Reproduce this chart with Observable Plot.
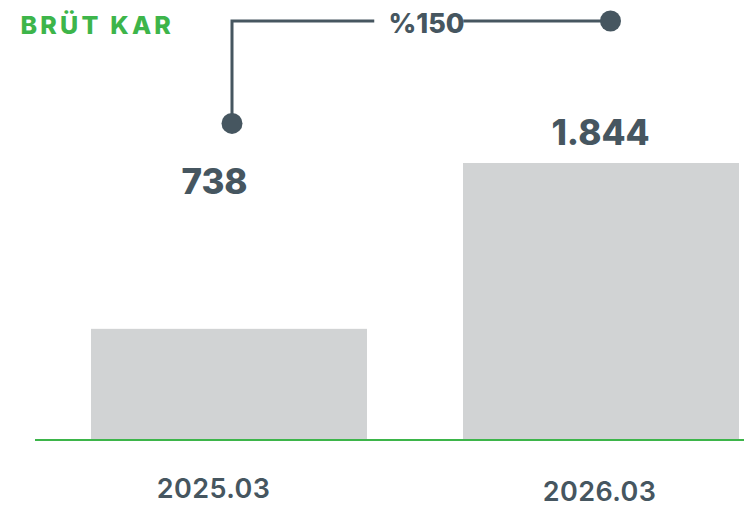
<!DOCTYPE html>
<html>
<head>
<meta charset="utf-8">
<script src="https://cdn.jsdelivr.net/npm/d3@7"></script>
<script src="https://cdn.jsdelivr.net/npm/@observablehq/plot@0.6"></script>
<style>
  html, body { margin: 0; padding: 0; background: #ffffff; }
  #chart svg { display: block; }
</style>
</head>
<body>
<div id="chart"></div>
<script>
// ---- data ----
const title = "BRÜT KAR";
const periods = ["2025.03", "2026.03"];
const values = [738, 1844];

const data = periods.map((p, i) => ({period: p, value: values[i]}));

// Turkish number formatting (1.844)
const tr = d3.formatLocale({decimal: ",", thousands: ".", grouping: [3], currency: ["₺", ""]});
const fmt = tr.format(",d");
const growth = "%" + Math.round((values[1] - values[0]) / values[0] * 100);

const slate = "#465660";
const green = "#3db54a";
const gray = "#d1d3d4";
const font = "Inter, 'Open Sans', sans-serif";

// connector annotation (in value units of the y scale)
const connTop = 2791;
const connStart = 2108;

function connector(index, scales, vals, dims) {
  const x = scales.x, y = scales.y;
  const bw = x.bandwidth ? x.bandwidth() : (scales.scales && scales.scales.x.bandwidth) || 0;
  const x1 = x(periods[0]) + bw / 2 + 3;
  const x2 = x(periods[1]) + bw / 2 + 9.5;
  const yS = y(connStart), yT = y(connTop);
  const mid = (x1 + x2) / 2;
  const g = d3.create("svg:g")
    .attr("fill", "none").attr("stroke", slate).attr("stroke-width", 3);
  g.append("path").attr("d", `M${x1},${yS}V${yT}H${mid - 47}`);
  g.append("path").attr("d", `M${mid + 42},${yT}H${x2}`);
  g.append("circle").attr("cx", x1).attr("cy", yS).attr("r", 10.5).attr("fill", slate).attr("stroke", "none");
  g.append("circle").attr("cx", x2).attr("cy", yT).attr("r", 10.5).attr("fill", slate).attr("stroke", "none");
  return g.node();
}

const chart = Plot.plot({
  width: 744,
  height: 510,
  marginTop: 0,
  marginBottom: 70.5,
  marginLeft: 35,
  marginRight: 0,
  style: {fontFamily: font, background: "#ffffff", overflow: "visible"},
  x: {type: "band", domain: periods, paddingInner: 0.257, paddingOuter: 0.0806, align: 0.917, axis: null},
  y: {domain: [0, 1844 * 439.5 / 276.5], axis: null},
  marks: [
    Plot.barY(data, {x: "period", y: "value", fill: gray}),
    Plot.ruleY([0], {stroke: green, strokeWidth: 2}),
    // value labels
    Plot.text(data.filter(d => d.period === periods[0]), {
      x: "period", y: "value", text: d => fmt(d.value),
      lineAnchor: "bottom", dx: -15, dy: -135.8,
      fontSize: 35, fontWeight: 800, fill: slate
    }),
    Plot.text(data.filter(d => d.period === periods[1]), {
      x: "period", y: "value", text: d => fmt(d.value),
      lineAnchor: "bottom", dx: -1, dy: -19,
      fontSize: 35, fontWeight: 800, fill: slate
    }),
    // category labels
    Plot.text(data.filter(d => d.period === periods[0]), {
      x: "period", frameAnchor: "bottom", text: "period",
      lineAnchor: "bottom", dx: -16, dy: 57.5,
      fontSize: 27, fontWeight: 600, fill: slate
    }),
    Plot.text(data.filter(d => d.period === periods[1]), {
      x: "period", frameAnchor: "bottom", text: "period",
      lineAnchor: "bottom", dx: -2, dy: 60.5,
      fontSize: 27, fontWeight: 600, fill: slate
    }),
    // connector
    connector,
    Plot.text([growth], {
      frameAnchor: "top", text: d => d, lineAnchor: "bottom",
      dx: 36.5, dy: 32.3, fontSize: 27, fontWeight: 800, fill: slate
    }),
    // title
    Plot.text([title], {
      frameAnchor: "top-left", text: d => d, textAnchor: "start", lineAnchor: "bottom",
      dx: -15, dy: 33.5, fontSize: 25, fontWeight: 800, fill: green
    })
  ]
});

// letter spacing tweaks (Montserrat-like width)
d3.select(chart).selectAll("text")
  .filter(function() { return this.textContent === title; })
  .style("letter-spacing", "3.2px");
d3.select(chart).selectAll("text")
  .filter(function() { return periods.includes(this.textContent); })
  .style("letter-spacing", "0.4px");

document.getElementById("chart").appendChild(chart);
</script>
</body>
</html>
